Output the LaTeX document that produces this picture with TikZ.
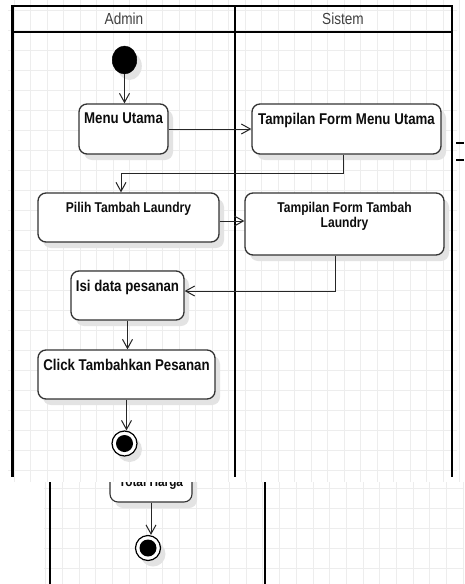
\documentclass[tikz,border=0pt]{standalone}
\usepackage{fontspec}
\setmainfont{Liberation Sans}[FakeStretch=0.85]
\usetikzlibrary{arrows.meta,shapes.geometric,shadows}

\begin{document}
\begin{tikzpicture}[x=1pt,y=-1pt,
  gridline/.style={draw=black!7, line width=0.8pt},
  lane/.style={draw=black, line width=2.8pt},
  thinlane/.style={draw=black, line width=1.8pt},
  shade/.style={drop shadow={shadow xshift=5pt, shadow yshift=-6pt, fill=black!11, opacity=1}},
  act/.style={draw=black!80, line width=1.3pt, rounded corners=8pt, fill=white,
    inner sep=0pt, shade},
  lbl/.style={anchor=north, inner sep=0pt, yshift=-9.5pt, align=center, text=black!95,
    font=\bfseries\fontsize{15.6}{15}\selectfont},
  lblsmall/.style={lbl, font=\bfseries\fontsize{14.2}{15}\selectfont},
  hdr/.style={text=black!75, font=\fontsize{16}{18}\selectfont, inner sep=0pt},
  startnode/.style={ellipse, fill=black, draw=black, minimum width=24.6pt,
    minimum height=28pt, inner sep=0pt, shade},
  endnode/.style={circle, draw=black, line width=1.2pt, fill=white, minimum size=25pt,
    inner sep=0pt, shade,
    path picture={\fill[black] (path picture bounding box.center) circle (8.5pt);}},
  arr/.style={draw=black!85, line width=1pt, -{Straight Barb[length=9pt,width=10pt]}}
]
\useasboundingbox (0,0) rectangle (464,584);

% background grid of the swimlane sheet
\fill[white] (0,0) rectangle (464,584);
\foreach \i in {0,...,27} \draw[gridline] ({14+16.5*\i},0) -- ({14+16.5*\i},482);
\foreach \i in {0,...,23} \draw[gridline] (8,{10+20*\i}) -- (457,{10+20*\i});

% swimlanes
\draw[lane] (12.7,6) rectangle (452,32);
\draw[lane] (12.7,32) -- (12.7,477);
\draw[lane] (235,6) -- (235,477);
\draw[lane] (452,32) -- (452,477);
\node[hdr] (hadmin) at (124,19) {Admin};
\node[hdr] (hsistem) at (343,19) {Sistem};

% marks at the right edge
\draw[line width=1.4pt] (456,143) -- (464,143);
\draw[line width=1.4pt] (456,160) -- (464,160);

% activities
\node[startnode] (start) at (124.5,60) {};
\node[act, minimum width=89pt, minimum height=50pt,
  label={[lbl]north:Menu Utama}] (menu) at (123.5,129) {};
\node[act, minimum width=189pt, minimum height=50pt,
  label={[lbl]north:Tampilan Form Menu Utama}] (tfmu) at (346.5,129) {};
\node[act, minimum width=181pt, minimum height=49pt,
  label={[lblsmall]north:Pilih Tambah Laundry}] (pilih) at (128.5,217.5) {};
\node[act, minimum width=199pt, minimum height=62pt,
  label={[lblsmall]north:Tampilan Form Tambah\\Laundry}] (ttl) at (344.5,224) {};
\node[act, minimum width=113pt, minimum height=49pt,
  label={[lbl]north:Isi data pesanan}] (isi) at (127.5,295.5) {};
\node[act, minimum width=177pt, minimum height=49pt,
  label={[lbl]north:Click Tambahkan Pesanan}] (click) at (126.5,374.5) {};
\node[endnode] (endc) at (124.5,443.5) {};

% control flow
\draw[arr] (start.south) -- (start.south |- menu.north);
\draw[arr] (menu.east) -- (tfmu.west);
\draw[arr] ([xshift=-3.5pt]tfmu.south) -- ++(0,19) -| ([xshift=-7.5pt]pilih.north);
\draw[arr] ([yshift=-3.5pt]pilih.east) -- ([yshift=-3.5pt]pilih.east -| ttl.west);
\draw[arr] ([xshift=-9.5pt]ttl.south) |- ([yshift=4.5pt]isi.east);
\draw[arr] (isi.south) -- (isi.south |- click.north);
\draw[arr] (click.south) -- (click.south |- endc.north);

% lower sheet
\begin{scope}
  \clip (44,482) rectangle (464,584);
  \fill[white] (44,482) rectangle (464,584);
  \foreach \i in {0,...,25} \draw[gridline] ({45.7+16.7*\i},482) -- ({45.7+16.7*\i},584);
  \foreach \i in {0,...,4} \draw[gridline] (44,{488+20*\i}) -- (464,{488+20*\i});
  \draw[thinlane] (50,482) -- (50,584);
  \draw[thinlane] (265,482) -- (265,584);
  \node[act, line width=1.1pt, minimum width=82pt, minimum height=50pt,
    label={[lbl, yshift=-15.5pt, font=\bfseries\fontsize{13.9}{15}\selectfont]north:Total Harga}]
    (tharga) at (151,477) {};
  \node[endnode] (end2) at (148,548) {};
  \draw[arr] (tharga.south) -- (tharga.south |- end2.north);
\end{scope}
\end{tikzpicture}
\end{document}
